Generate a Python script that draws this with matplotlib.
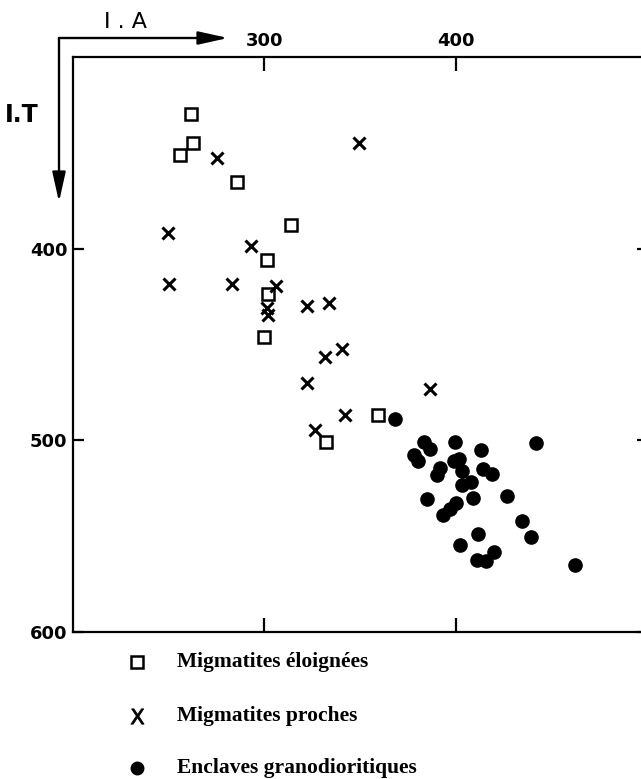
import matplotlib
matplotlib.use("Agg")
import matplotlib.pyplot as plt
from matplotlib.lines import Line2D

# ---- data (I.A on x, I.T on y) ----
eloignees_x = [261.6, 262.9, 255.9, 285.9, 313.7, 301.4, 301.7, 300.0, 359.5, 332.3]
eloignees_y = [329.8, 344.9, 351.3, 365.4, 387.6, 406.1, 423.7, 446.1, 486.9, 500.9]

proches_x = [349.6, 275.4, 249.5, 293.2, 250.2, 283.2, 305.9, 301.4, 301.9, 322.4,
             333.7, 340.6, 331.4, 322.2, 341.8, 326.6, 386.3]
proches_y = [344.9, 352.5, 392.0, 398.6, 418.2, 418.2, 419.7, 430.7, 434.6, 429.8,
             428.4, 452.5, 456.5, 470.0, 486.6, 494.8, 473.1]

enclaves_x = [368.4, 383.5, 386.6, 399.5, 413.0, 441.7, 378.0, 380.4, 401.7, 399.1,
              403.0, 391.8, 389.9, 414.1, 418.9, 407.8, 403.1, 384.9, 409.0, 426.6,
              400.0, 397.0, 393.2, 434.4, 411.3, 439.1, 402.1, 419.9, 410.9, 415.9,
              462.1]
enclaves_y = [488.8, 501.0, 504.4, 501.0, 505.2, 501.4, 507.5, 510.6, 509.6, 510.9,
              516.2, 514.5, 518.3, 515.0, 517.4, 521.5, 523.2, 530.7, 530.2, 529.0,
              532.8, 536.0, 539.0, 542.0, 549.0, 550.3, 554.6, 558.5, 562.5, 563.0,
              565.1]

x_ticks = [300, 400]
x_tick_labels = ["300", "400"]
y_ticks = [400, 500, 600]
y_tick_labels = ["400", "500", "600"]
legend_labels = ["Migmatites éloignées", "Migmatites proches", "Enclaves granodioritiques"]
x_label = "I . A"
y_label = "I.T"

W, H = 641, 779
fig = plt.figure(figsize=(W / 100, H / 100), dpi=100)

def fx(x):
    return x / W

def fy(y):
    return 1 - y / H

left_px, right_px, top_px, bottom_px = 73, 647.5, 57, 632
ax = fig.add_axes([fx(left_px), fy(bottom_px), (right_px - left_px) / W, (bottom_px - top_px) / H])

sq_style = dict(marker="s", ms=8.5, mfc="white", mec="black", mew=1.8)
x_style = dict(marker="x", ms=9.0, mec="black", mew=2.2)
dot_style = dict(marker="o", ms=9.5, mfc="black", mec="black")

ax.plot(eloignees_x, eloignees_y, linestyle="none", **sq_style)
ax.plot(proches_x, proches_y, linestyle="none", **x_style)
ax.plot(enclaves_x, enclaves_y, linestyle="none", **dot_style)

ax.set_xlim(200, 500)
ax.set_ylim(600, 300)

for s in ax.spines.values():
    s.set_linewidth(1.6)

tick_font = dict(family="DejaVu Sans", weight="bold", size=13)
ax.set_xticks(x_ticks)
ax.set_xticklabels(x_tick_labels, **tick_font)
ax.set_yticks(y_ticks)
ax.set_yticklabels(y_tick_labels, **tick_font)
ax.tick_params(axis="x", top=True, bottom=True, labeltop=True, labelbottom=False,
               direction="in", length=10, width=1.6, pad=5)
ax.tick_params(axis="y", left=True, right=True, labelleft=True, labelright=False,
               direction="in", length=8, width=1.6, pad=4)

# axis labels with arrows
arrow_kw = dict(arrowstyle="-|>,head_length=1.8,head_width=0.4", lw=1.7, color="black",
                shrinkA=0, shrinkB=0, mutation_scale=10)
corner = (59, H - 38)
fig.add_artist(plt.Annotation("", xy=(228, H - 38), xytext=corner, xycoords="figure pixels",
                              textcoords="figure pixels", arrowprops=arrow_kw))
fig.add_artist(plt.Annotation("", xy=(59, H - 202), xytext=corner, xycoords="figure pixels",
                              textcoords="figure pixels", arrowprops=arrow_kw))
fig.text(fx(126), fy(22), x_label, ha="center", va="center", fontsize=16,
         family="DejaVu Sans")
fig.text(fx(22), fy(115), y_label, ha="center", va="center", fontsize=17,
         family=["Liberation Sans Narrow", "DejaVu Sans"], weight="bold")

# legend (manual)
leg_y = [662, 716, 768]
leg_markers = [dict(marker="s", ms=8.5, mfc="white", mec="black", mew=1.8),
               dict(marker="$\\mathsf{X}$", ms=11, mec="black", mfc="black", mew=0.6),
               dict(marker="o", ms=9.0, mfc="black", mec="black")]
for yy, mk, lab in zip(leg_y, leg_markers, legend_labels):
    fig.add_artist(Line2D([fx(137)], [fy(yy)], transform=fig.transFigure, linestyle="none", **mk))
    fig.text(fx(177), fy(yy), lab, ha="left", va="center", fontsize=15.5,
             family="Liberation Serif", weight="bold")

fig.savefig("out.png", dpi=100)
